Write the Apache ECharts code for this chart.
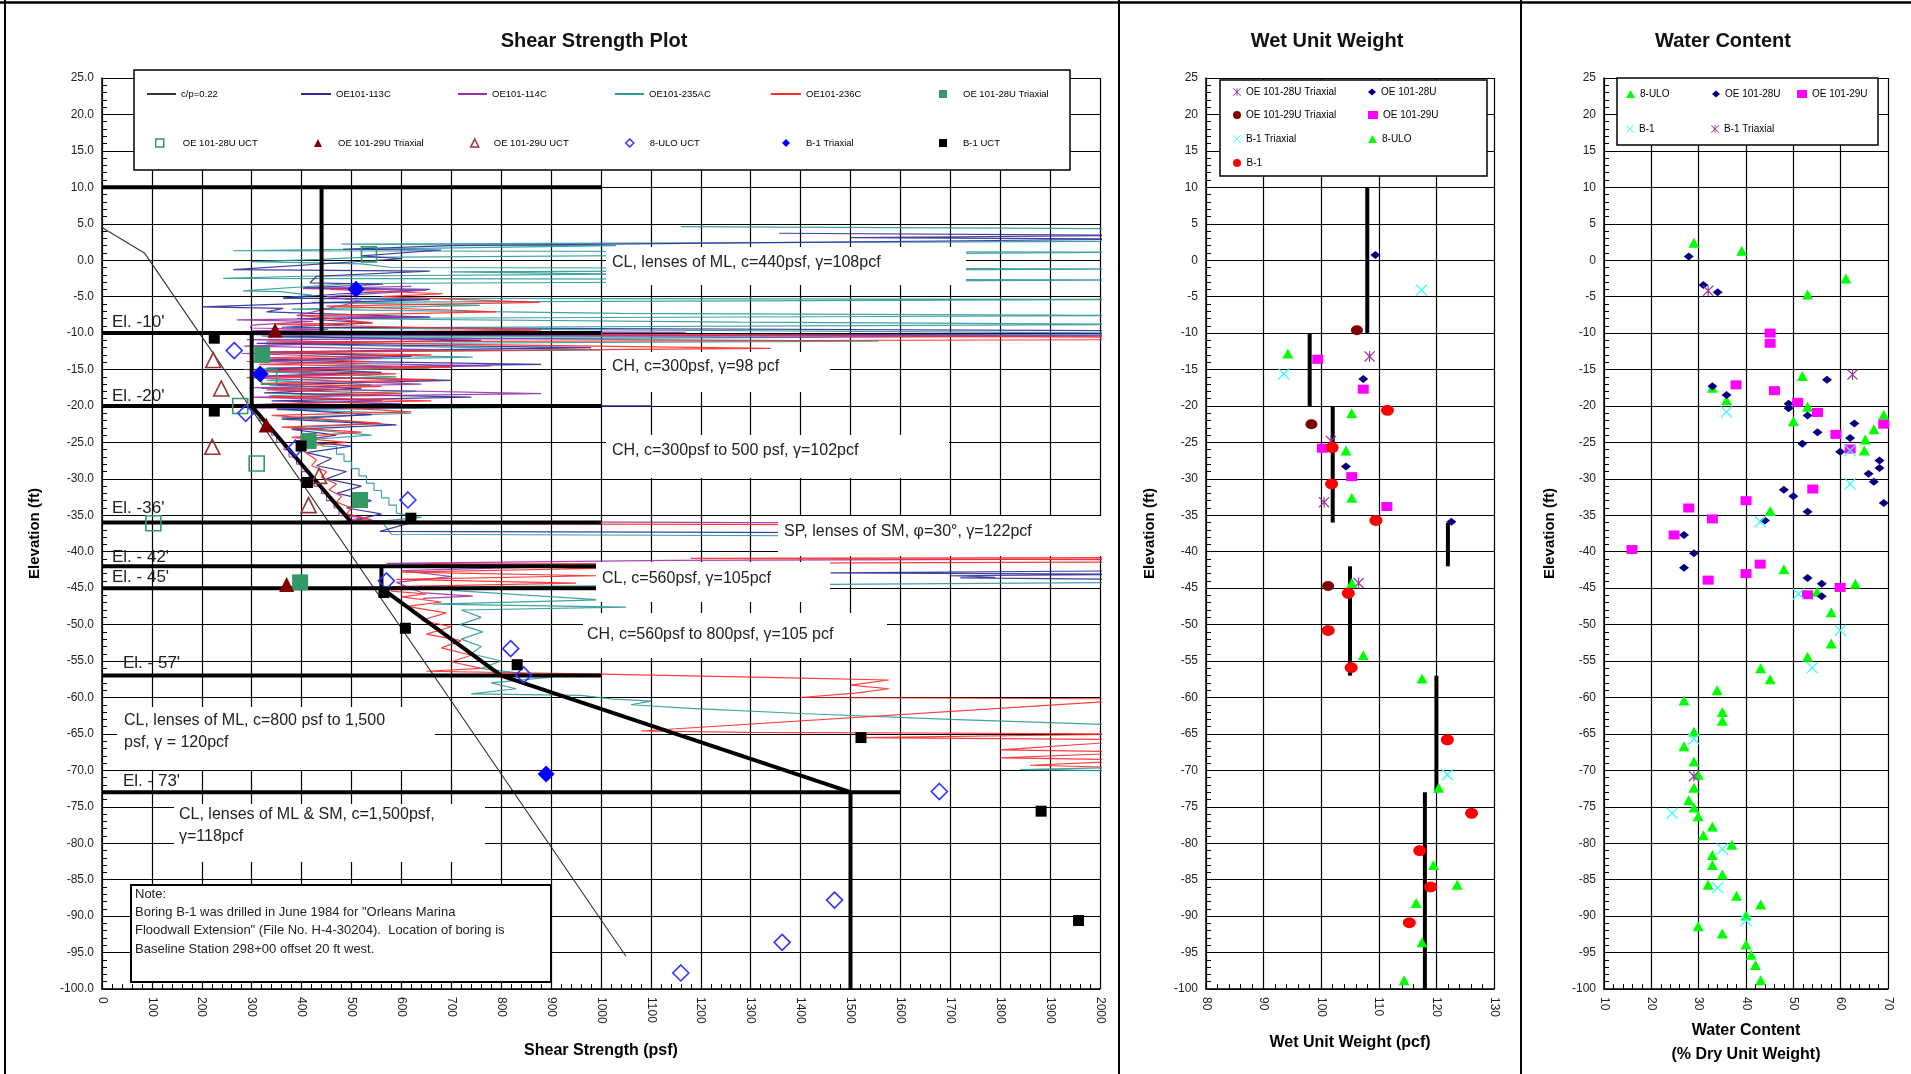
<!DOCTYPE html>
<html><head><meta charset="utf-8">
<script src="https://cdn.jsdelivr.net/npm/echarts@6/dist/echarts.min.js"></script>
<style>html,body{margin:0;padding:0;background:#fff}#c{width:1911px;height:1074px}</style>
</head><body><div id="c"></div>
<script>
// ---------------- DATA ----------------
// Shear strength plot: CPT traces [psf, elevation ft]
const oe113C = [[1357,3.7],[2100,3.4],[1500,3.1],[2100,2.9],[700,2.0],[483,1.5],[680,1.4],[520,0.6],[600,0.2],[263,-1.3],[657,-1.5],[430,-2.2],[417,-3.1],[563,-3.3],[403,-3.8],[657,-4.0],[480,-4.6],[363,-5.2],[657,-5.4],[420,-5.9],[200,-6.4],[363,-6.6],[330,-7.1],[657,-7.8],[390,-8.0],[540,-8.6],[360,-9.2],[2100,-9.7],[2100,-10.1],[320,-10.4],[760,-11.0],[310,-11.4],[980,-12.0],[320,-12.6],[620,-13.2],[315,-13.7],[880,-14.3],[330,-14.8],[560,-15.4],[320,-15.9],[700,-16.5],[335,-17.1],[520,-17.6],[325,-18.2],[740,-18.8],[340,-19.3],[600,-19.7],[330,-19.9],[1100,-20.0],[350,-20.4],[540,-21.2],[360,-21.8],[590,-22.6],[380,-23.2],[470,-24.0],[390,-24.8],[500,-25.5],[410,-26.4],[460,-27.2],[430,-28.2],[490,-29.0],[450,-30.0],[520,-31.0],[470,-32.0],[540,-33.0],[490,-34.0],[560,-34.8],[510,-35.6],[620,-36.0],[557,-37.2],[2100,-37.5],[2100,-42.6],[1460,-42.9],[2100,-43.1],[1700,-43.3],[1790,-43.5],[1720,-43.6],[2100,-43.8]];
const oe114C = [[620,-3.6],[403,-3.9],[650,-4.1],[450,-5.0],[520,-5.6],[390,-7.6],[657,-7.8],[270,-8.2],[423,-8.4],[300,-8.9],[297,-9.3],[453,-9.5],[300,-9.7],[1170,-9.9],[290,-10.2],[2100,-10.4],[2100,-10.6],[290,-10.9],[520,-11.3],[285,-11.8],[690,-12.3],[280,-12.8],[560,-13.4],[290,-13.9],[780,-14.5],[285,-15.0],[470,-15.6],[290,-16.1],[640,-17.0],[295,-17.5],[880,-18.3],[300,-18.8],[560,-19.3],[300,-19.8],[980,-20.1],[305,-20.3],[305,-21.0],[315,-21.0],[315,-22.0],[325,-22.0],[325,-23.0],[340,-23.0],[340,-24.0],[350,-24.0],[350,-25.0],[365,-25.0],[365,-26.0],[375,-26.0],[375,-27.0],[390,-27.0],[390,-28.0],[400,-28.0],[400,-29.0],[415,-29.0],[415,-30.0],[425,-30.0],[425,-31.0],[440,-31.0],[440,-32.0],[450,-32.0],[450,-33.0],[465,-33.0],[465,-34.0],[475,-34.0],[475,-35.0],[520,-35.3],[490,-35.8],[2100,-36.2],[2100,-41.0],[1140,-41.2],[570,-41.6],[980,-41.9],[600,-42.6],[700,-43.4],[590,-44.2],[640,-45.6],[743,-46.1],[643,-46.4]];
const oe235AC = [[1160,4.6],[2100,4.3],[2100,2.6],[480,2.2],[1030,2.0],[600,1.6],[263,1.3],[2100,1.1],[520,0.4],[437,0.1],[300,-0.2],[520,-0.5],[580,-1.0],[2100,-1.2],[700,-1.6],[1040,-1.9],[400,-2.2],[243,-2.5],[2100,-2.7],[500,-3.2],[283,-4.2],[357,-4.3],[420,-4.8],[363,-5.2],[2100,-5.4],[420,-5.8],[757,-6.2],[380,-6.7],[1040,-7.3],[2100,-7.6],[423,-8.0],[1277,-8.5],[2100,-8.8],[380,-9.3],[2100,-10.0],[2100,-10.3],[360,-10.6],[1556,-11.1],[330,-11.5],[1003,-12.3],[310,-12.7],[743,-13.3],[320,-13.8],[657,-14.8],[315,-15.3],[590,-16.0],[330,-16.5],[540,-17.1],[320,-17.6],[630,-18.0],[335,-18.6],[563,-19.2],[330,-19.8],[1000,-20.1],[350,-20.5],[620,-21.0],[360,-21.6],[557,-22.4],[380,-23.0],[540,-24.0],[420,-24.6],[443,-25.5],[470,-25.6],[470,-26.6],[485,-26.6],[485,-27.6],[500,-27.6],[500,-28.6],[515,-28.6],[515,-29.6],[530,-29.6],[530,-30.6],[545,-30.6],[545,-31.6],[560,-31.6],[560,-32.6],[575,-32.6],[575,-33.6],[590,-33.6],[590,-34.7],[640,-35.3],[560,-35.8],[580,-37.6],[2100,-38.0],[2100,-44.2],[757,-44.8],[700,-45.3],[1000,-46.6],[663,-47.2],[1050,-47.6],[720,-48.0],[760,-49.0],[717,-50.0],[763,-51.0],[720,-52.0],[760,-53.0],[740,-54.0],[800,-55.0],[760,-56.0],[900,-57.2],[780,-58.0],[830,-58.8],[740,-59.5],[960,-59.7],[1020,-60.2],[1100,-60.5],[1060,-61.0],[1180,-61.5],[1400,-62.2],[1700,-63.0],[2100,-63.9],[2100,-69.5],[1840,-69.9],[2100,-70.1]];
const oe236C = [[457,-4.0],[683,-4.6],[560,-5.0],[877,-5.8],[450,-6.3],[723,-6.9],[790,-7.1],[400,-7.6],[543,-8.6],[350,-8.8],[880,-9.6],[340,-10.0],[2100,-10.6],[2100,-10.9],[330,-11.2],[1340,-12.1],[310,-12.6],[660,-13.0],[320,-13.4],[540,-13.9],[315,-14.3],[700,-14.7],[320,-15.1],[590,-15.6],[330,-16.0],[670,-16.4],[320,-16.9],[560,-17.3],[330,-17.8],[600,-18.3],[335,-18.8],[660,-19.3],[340,-19.7],[620,-20.8],[340,-21.3],[560,-22.4],[360,-22.9],[520,-23.6],[380,-24.3],[490,-25.0],[395,-25.6],[410,-26.5],[430,-27.4],[420,-28.2],[450,-29.0],[440,-29.8],[470,-30.7],[455,-31.5],[480,-32.4],[470,-33.2],[500,-34.0],[490,-34.8],[540,-35.6],[417,-36.1],[2100,-36.4],[2100,-40.8],[1180,-40.9],[2100,-41.1],[2100,-41.4],[650,-41.7],[990,-42.3],[600,-42.8],[990,-43.3],[590,-43.8],[950,-44.3],[583,-44.8],[580,-45.4],[650,-45.8],[600,-46.2],[680,-46.9],[610,-47.5],[690,-48.4],[640,-49.4],[700,-50.3],[650,-51.3],[720,-52.2],[680,-53.2],[740,-54.2],[700,-55.1],[760,-56.0],[650,-56.4],[1000,-56.8],[1380,-57.3],[1577,-57.6],[1500,-58.3],[1577,-58.8],[1510,-59.4],[1400,-60.0],[2100,-60.2],[1080,-64.6],[1300,-64.8],[2100,-65.0],[1520,-65.5],[2100,-65.8],[1800,-67.2],[2100,-67.5],[1800,-68.3],[2100,-68.6],[1860,-69.3],[2100,-69.7]];
const cpLine = [[0,4.5],[85,1.0],[1050,-95.5]];
const designSegs = [
  [[0,10],[1000,10]],[[440,10],[440,-10]],[[0,-10],[1000,-10]],[[300,-10],[300,-20]],
  [[0,-20],[1000,-20]],[[300,-20],[500,-36]],[[0,-36],[1000,-36]],[[0,-42],[1000,-42]],
  [[560,-42],[560,-45]],[[0,-45],[1000,-45]],[[560,-45],[800,-57]],[[0,-57],[1000,-57]],
  [[800,-57],[1500,-73]],[[0,-73],[1600,-73]],[[1500,-73],[1500,-100]]
];
// Shear strength test points
const s28uTriaxial = [[321,-13],[414,-24.8],[517,-32.9],[397,-44.2]];
const s28uUCT = [[535,0.8],[335,-16],[277,-20],[310,-27.9],[103,-36.1]];
const s29uTriaxial = [[347,-9.6],[329,-22.6],[370,-44.5]];
const s29uUCT = [[223,-13.7],[239,-17.6],[221,-25.6],[435,-29.6],[414,-33.6]];
const sUloUCT = [[265,-12.4],[288,-21],[388,-25.8],[613,-32.9],[570,-44],[819,-53.3],[845,-56.9],[1678,-72.9],[1468,-87.8],[1363,-93.6],[1160,-97.8]];
const sB1Triaxial = [[509,-4],[317,-15.6],[890,-70.5]];
const sB1UCT = [[225,-10.7],[225,-20.7],[399,-25.5],[412,-30.5],[619,-35.4],[565,-45.6],[608,-50.5],[832,-55.5],[1521,-65.5],[1882,-75.6],[1957,-90.6]];
// Wet unit weight [pcf, elevation]
const w28uTriaxial = [[108.4,-13.2],[101.7,-24.8],[100.5,-33.2],[106.5,-44.3]];
const w28u = [[109.4,0.7],[107.3,-16.3],[104.3,-28.3],[122.6,-35.9]];
const w29uTriaxial = [[106.2,-9.6],[98.3,-22.5],[101.2,-44.7]];
const w29u = [[99.4,-13.6],[107.3,-17.7],[100.2,-25.8],[105.3,-29.7],[111.4,-33.8]];
const wB1Triaxial = [[117.4,-4.1],[93.5,-15.6],[121.9,-70.6]];
const wUlo = [[94.2,-12.8],[105.3,-21],[104.3,-26.1],[105.3,-32.6],[105.3,-44.3],[107.3,-54.2],[117.5,-57.4],[120.4,-72.4],[119.5,-83],[123.6,-85.7],[116.5,-88.2],[117.5,-93.6],[114.4,-98.8]];
const wB1 = [[111.5,-20.6],[101.9,-25.7],[101.8,-30.7],[109.5,-35.7],[104.7,-45.7],[101.2,-50.8],[105.2,-55.9],[121.9,-65.8],[126.1,-75.9],[117.1,-81],[119,-86],[115.3,-90.9]];
const wDesign = [[108,10,-10],[98,-10,-20],[102,-20,-36],[122,-36,-42],[105,-42,-57],[120,-57,-73],[118,-73,-100]];
// Water content [% , elevation]
const mUlo = [[29.0,2.4],[39.1,1.3],[53.0,-4.7],[61.1,-2.5],[51.9,-15.9],[32.9,-17.5],[35.9,-19.2],[53.0,-20.1],[50.0,-22.1],[69.1,-21.2],[67.0,-23.2],[65.2,-24.6],[65.0,-26.1],[45.1,-34.4],[48.0,-42.4],[63.1,-44.4],[55.0,-45.5],[58.0,-48.3],[58.0,-52.6],[53.0,-54.4],[43.1,-56],[45.1,-57.5],[33.9,-59],[26.9,-60.4],[35.0,-62],[35.0,-63.2],[29.0,-64.7],[26.9,-66.7],[29.0,-68.8],[29.9,-70.6],[29.0,-72.4],[27.9,-74.1],[29.0,-75.1],[29.9,-76.3],[32.9,-77.7],[31.0,-78.9],[37.0,-80.2],[32.9,-81.6],[32.9,-83],[35.0,-84.3],[32.0,-85.7],[38.0,-87.2],[43.1,-88.4],[40.0,-89.9],[29.9,-91.4],[35.0,-92.4],[40.0,-93.9],[41.1,-95.3],[42.0,-96.7],[43.1,-98.8]];
const m28u = [[27.9,0.5],[31.0,-3.4],[34.0,-4.4],[32.9,-17.3],[35.9,-18.5],[57.1,-16.4],[49.0,-19.7],[49.0,-20.3],[53.0,-21.3],[55.1,-23.6],[51.9,-25.2],[62.9,-22.4],[62.0,-24.4],[59.9,-26.3],[68.2,-27.5],[68.2,-28.5],[65.9,-29.3],[67.0,-30.4],[69.1,-33.3],[48.0,-31.5],[50.0,-32.4],[53.0,-34.5],[44.0,-35.7],[26.9,-37.7],[29.0,-40.2],[26.9,-42.2],[53.0,-43.6],[56.0,-44.4],[56.0,-46.1]];
const m29u = [[45.1,-10],[45.1,-11.4],[46.0,-17.9],[37.9,-17.1],[50.9,-19.5],[55.1,-20.9],[59.0,-23.9],[62.0,-25.9],[69.1,-22.5],[54.1,-31.4],[40.0,-33],[27.9,-34],[32.9,-35.5],[24.8,-37.7],[15.9,-39.7],[40.0,-43],[43.0,-41.7],[32.0,-43.9],[53.0,-45.9],[59.9,-44.9]];
const mB1 = [[35.9,-20.8],[43.0,-35.9],[62.0,-26.1],[62.0,-30.7],[51.1,-45.8],[59.9,-50.8],[54.0,-55.9],[29.0,-65.7],[24.4,-75.9],[35.0,-80.8],[34.0,-86.1],[40.0,-90.6]];
const mB1Triaxial = [[32.0,-4.2],[62.5,-15.7],[29.0,-70.8]];

// ---------------- CHART ----------------
const FONT = '"Liberation Sans", Arial, Helvetica, sans-serif';
const X_PATH = 'path://M0,1.5L1.5,0L10,8.5L18.5,0L20,1.5L11.5,10L20,18.5L18.5,20L10,11.5L1.5,20L0,18.5L8.5,10Z';
const AST_PATH = X_PATH + 'M9,0L11,0L11,20L9,20Z';

function xAx(gi, min, max, interval, name, nameGap) {
  return {gridIndex: gi, type: 'value', min, max, interval, name, nameLocation: 'middle', nameGap,
    nameTextStyle: {fontFamily: FONT, fontWeight: 'bold', fontSize: 16, color: '#000', lineHeight: 24},
    axisLine: {onZero: false, lineStyle: {color: '#000', width: 1.5}},
    axisTick: {inside: true, length: 6, lineStyle: {color: '#000'}},
    minorTick: {show: true, splitNumber: 5, length: 5, lineStyle: {color: '#000'}},
    splitLine: {show: true, lineStyle: {color: '#000', width: 1.2}},
    axisLabel: {rotate: -90, fontSize: 12, fontFamily: FONT, color: '#222', margin: 8, formatter: v => String(v)}};
}
function yAx(gi, nameGap, fmt) {
  return {gridIndex: gi, type: 'value', min: -100, max: 25, interval: 5, name: 'Elevation (ft)', nameLocation: 'middle', nameGap,
    nameTextStyle: {fontFamily: FONT, fontWeight: 'bold', fontSize: 15, color: '#000'},
    axisLine: {onZero: false, lineStyle: {color: '#000', width: 1.5}},
    axisTick: {inside: true, length: 6, lineStyle: {color: '#000'}},
    minorTick: {show: true, splitNumber: 5, length: 5, lineStyle: {color: '#000'}},
    splitLine: {show: true, lineStyle: {color: '#000', width: 1.2}},
    axisLabel: {fontSize: 12, fontFamily: FONT, color: '#222', margin: 8, formatter: fmt}};
}

const series = [];
function trace(name, data, color) {
  series.push({name, type: 'line', data, xAxisIndex: 0, yAxisIndex: 0, symbol: 'none', showSymbol: false,
    lineStyle: {color, width: 1.2, opacity: 0.9}, itemStyle: {color}, z: 2, silent: true, animation: false});
}
trace('OE101-235AC', oe235AC, '#2E9999');
trace('OE101-113C', oe113C, '#2B2B99');
trace('OE101-114C', oe114C, '#9933AA');
trace('OE101-236C', oe236C, '#FF2A2A');
series.push({name: 'c/p=0.22', type: 'line', data: cpLine, xAxisIndex: 0, yAxisIndex: 0, symbol: 'none',
  lineStyle: {color: '#333', width: 1.1}, itemStyle: {color: '#333'}, z: 3, silent: true});
designSegs.forEach(seg => series.push({name: 'design', type: 'line', data: seg, xAxisIndex: 0, yAxisIndex: 0,
  symbol: 'none', lineStyle: {color: '#000', width: 4}, z: 3, silent: true}));
function pts(name, data, gi, symbol, size, fill, stroke, bw, z) {
  series.push({name, type: 'scatter', data, xAxisIndex: gi, yAxisIndex: gi, symbol, symbolSize: size,
    itemStyle: {color: fill, borderColor: stroke || fill, borderWidth: bw || 0, opacity: 1}, z: z || 5, silent: true});
}
const HOLLOW = 'rgba(255,255,255,0)';
pts('OE 101-28U Triaxial', s28uTriaxial, 0, 'rect', 16, '#339966');
pts('OE 101-28U UCT', s28uUCT, 0, 'rect', 15, HOLLOW, '#339966', 1.6);
pts('OE 101-29U Triaxial', s29uTriaxial, 0, 'triangle', 15, '#800000');
pts('OE 101-29U UCT', s29uUCT, 0, 'triangle', 15, HOLLOW, '#993333', 1.6);
pts('8-ULO UCT', sUloUCT, 0, 'diamond', 16, HOLLOW, '#3333FF', 1.6);
pts('B-1 Triaxial', sB1Triaxial, 0, 'diamond', 17, '#0000FF');
pts('B-1 UCT', sB1UCT, 0, 'rect', 11, '#000000');

wDesign.forEach(d => series.push({name: 'wdesign', type: 'line', data: [[d[0], d[1]], [d[0], d[2]]], xAxisIndex: 1, yAxisIndex: 1,
  symbol: 'none', lineStyle: {color: '#000', width: 4}, z: 3, silent: true}));
pts('OE 101-28U Triaxial ', w28uTriaxial, 1, AST_PATH, 11, '#993399');
pts('OE 101-28U', w28u, 1, 'diamond', [10, 8], '#000080');
pts('OE 101-29U Triaxial ', w29uTriaxial, 1, 'circle', [12, 10], '#800000');
pts('OE 101-29U', w29u, 1, 'rect', [11, 9], '#FF00FF');
pts('B-1 Triaxial ', wB1Triaxial, 1, X_PATH, 12, '#33FFFF');
pts('8-ULO', wUlo, 1, 'triangle', [11, 10], '#00FF00');
pts('B-1', wB1, 1, 'circle', [13, 11], '#FF0000');

pts('8-ULO ', mUlo, 2, 'triangle', [11, 10], '#00FF00');
pts('OE 101-28U ', m28u, 2, 'diamond', [10, 8], '#000080');
pts('OE 101-29U ', m29u, 2, 'rect', [11, 9], '#FF00FF');
pts('B-1 ', mB1, 2, X_PATH, 12, '#33FFFF');
pts('B-1 Triaxial  ', mB1Triaxial, 2, AST_PATH, 11, '#993399');

// legends
const legends = [];
function leg(name, left, y, iw, ih, fs, padL, extra) {
  legends.push(Object.assign({data: [name], left, top: y - 6, itemWidth: iw, itemHeight: ih, padding: 0, itemGap: 0,
    selectedMode: false, z: 30, textStyle: {fontSize: fs, fontFamily: FONT, color: '#000', padding: [0, 0, 0, padL || 0]}}, extra || {}));
}
function legLine(name, left, y, iw) {
  legends.push({data: [{name, icon: 'rect'}], left, top: y - 6, itemWidth: iw, itemHeight: 2, padding: 0, itemGap: 0,
    selectedMode: false, z: 30, textStyle: {fontSize: 9.5, fontFamily: FONT, color: '#000'}});
}
legLine('c/p=0.22', 147, 95, 29);
legLine('OE101-113C', 301, 95, 30);
legLine('OE101-114C', 458, 95, 29);
legLine('OE101-235AC', 615, 95, 29);
legLine('OE101-236C', 771, 95, 30);
const HB = {itemStyle: {borderWidth: 1.5}};
leg('OE 101-28U Triaxial', 939, 95, 8, 8, 9.5, 11);
leg('OE 101-28U UCT', 155, 144, 8, 8, 9.5, 14, HB);
leg('OE 101-29U Triaxial', 314, 144, 8, 8, 9.5, 11);
leg('OE 101-29U UCT', 470, 144, 8, 8, 9.5, 10, HB);
leg('8-ULO UCT', 625, 144, 8, 8, 9.5, 11, HB);
leg('B-1 Triaxial', 782, 144, 8, 8, 9.5, 11);
leg('B-1 UCT', 939, 144, 8, 8, 9.5, 11);
leg('OE 101-28U Triaxial ', 1233, 93, 8, 8, 10);
leg('OE 101-28U', 1368, 93, 8, 7, 10);
leg('OE 101-29U Triaxial ', 1233, 116, 8, 8, 10);
leg('OE 101-29U', 1368, 116, 10, 8, 10);
leg('B-1 Triaxial ', 1233, 140, 8, 8, 10);
leg('8-ULO', 1368, 140, 9, 8, 10);
leg('B-1', 1233, 164, 9, 8, 10);
leg('8-ULO ', 1626, 95, 9, 8, 10);
leg('OE 101-28U ', 1712, 95, 8, 7, 10);
leg('OE 101-29U ', 1797, 95, 10, 8, 10);
leg('B-1 ', 1626, 130, 8, 8, 10);
leg('B-1 Triaxial  ', 1711, 130, 8, 8, 10);

// graphics: panel frame, legend frames, annotation boxes
const G = [];
const ann = (t, x, y, size) => ({type: 'text', x, y, z: 12, style: {text: t, fill: '#222', font: (size || 16) + 'px ' + FONT, align: 'left', verticalAlign: 'middle', lineHeight: 22}});
const wbox = (x, y, w, h) => ({type: 'rect', z: 11, shape: {x, y, width: w, height: h}, style: {fill: '#fff'}});
G.push({type: 'line', z: 12, shape: {x1: 1119, y1: 0, x2: 1119, y2: 1074}, style: {stroke: '#000', lineWidth: 2}});
G.push({type: 'line', z: 12, shape: {x1: 1521, y1: 0, x2: 1521, y2: 1074}, style: {stroke: '#000', lineWidth: 2}});
G.push({type: 'line', z: 12, shape: {x1: 5, y1: 0, x2: 5, y2: 1074}, style: {stroke: '#000', lineWidth: 2}});
G.push({type: 'line', z: 12, shape: {x1: 0, y1: 2.5, x2: 1911, y2: 2.5}, style: {stroke: '#000', lineWidth: 2.5}});
G.push({type: 'rect', z: 20, shape: {x: 134, y: 70, width: 936, height: 100}, style: {fill: '#fff', stroke: '#000', lineWidth: 1.5}});
G.push({type: 'rect', z: 20, shape: {x: 1220, y: 80, width: 267, height: 96}, style: {fill: '#fff', stroke: '#000', lineWidth: 1.5}});
G.push({type: 'rect', z: 20, shape: {x: 1617, y: 78, width: 261, height: 67}, style: {fill: '#fff', stroke: '#000', lineWidth: 1.5}});
G.push(wbox(606, 247, 360, 38), ann('CL, lenses of ML, c=440psf, \u03b3=108pcf', 612, 263));
G.push(wbox(606, 352, 224, 40), ann('CH, c=300psf, \u03b3=98 pcf', 612, 367));
G.push(wbox(606, 435, 343, 43), ann('CH, c=300psf to 500 psf, \u03b3=102pcf', 612, 451));
G.push(wbox(778, 516, 337, 40), ann('SP, lenses of SM, \u03c6=30\u00b0, \u03b3=122pcf', 784, 532));
G.push(wbox(596, 562, 234, 40), ann('CL, c=560psf, \u03b3=105pcf', 602, 579));
G.push(wbox(583, 613, 304, 45), ann('CH, c=560psf to 800psf, \u03b3=105 pcf', 587, 635));
G.push(wbox(117, 707, 318, 63), ann('CL, lenses of ML, c=800 psf to 1,500\npsf, \u03b3 = 120pcf', 124, 732));
G.push(wbox(174, 804, 311, 58), ann('CL, lenses of ML & SM, c=1,500psf,\n\u03b3=118pcf', 179, 826));
G.push({type: 'rect', z: 11, shape: {x: 131, y: 885, width: 420, height: 97}, style: {fill: '#fff', stroke: '#000', lineWidth: 2}});
G.push({type: 'text', x: 135, y: 885, z: 12, style: {text: 'Note:\nBoring B-1 was drilled in June 1984 for "Orleans Marina\nFloodwall Extension" (File No. H-4-30204).  Location of boring is\nBaseline Station 298+00 offset 20 ft west.', fill: '#222', font: '13px ' + FONT, align: 'left', verticalAlign: 'top', lineHeight: 18.3}});
[["El. -10'", 112, 322], ["El. -20'", 112, 396], ["El. -36'", 112, 508], ["El. - 42'", 112, 557], ["El. - 45'", 112, 577], ["El. - 57'", 123, 663], ["El. - 73'", 123, 781]]
  .forEach(e => G.push(ann(e[0], e[1], e[2], 17)));

const option = {
  animation: false,
  backgroundColor: '#fff',
  textStyle: {fontFamily: FONT},
  title: [
    {text: 'Shear Strength Plot', left: 589, top: 26, textAlign: 'center', textStyle: {fontSize: 20, fontWeight: 'bold', fontFamily: FONT, color: '#111'}},
    {text: 'Wet Unit Weight', left: 1322, top: 26, textAlign: 'center', textStyle: {fontSize: 20, fontWeight: 'bold', fontFamily: FONT, color: '#111'}},
    {text: 'Water Content', left: 1718, top: 26, textAlign: 'center', textStyle: {fontSize: 20, fontWeight: 'bold', fontFamily: FONT, color: '#111'}}
  ],
  grid: [
    {left: 102, top: 78, width: 998, height: 911},
    {left: 1206, top: 78, width: 288, height: 911},
    {left: 1604, top: 78, width: 284, height: 911}
  ],
  xAxis: [
    xAx(0, 0, 2000, 100, 'Shear Strength (psf)', 50),
    xAx(1, 80, 130, 10, 'Wet Unit Weight (pcf)', 42),
    xAx(2, 10, 70, 10, 'Water Content\n(% Dry Unit Weight)', 30)
  ],
  yAxis: [
    yAx(0, 60, v => v.toFixed(1)),
    yAx(1, 49, v => String(v)),
    yAx(2, 47, v => String(v))
  ],
  legend: legends,
  series,
  graphic: {elements: G}
};
const chart = echarts.init(document.getElementById('c'));
chart.setOption(option);
</script></body></html>
